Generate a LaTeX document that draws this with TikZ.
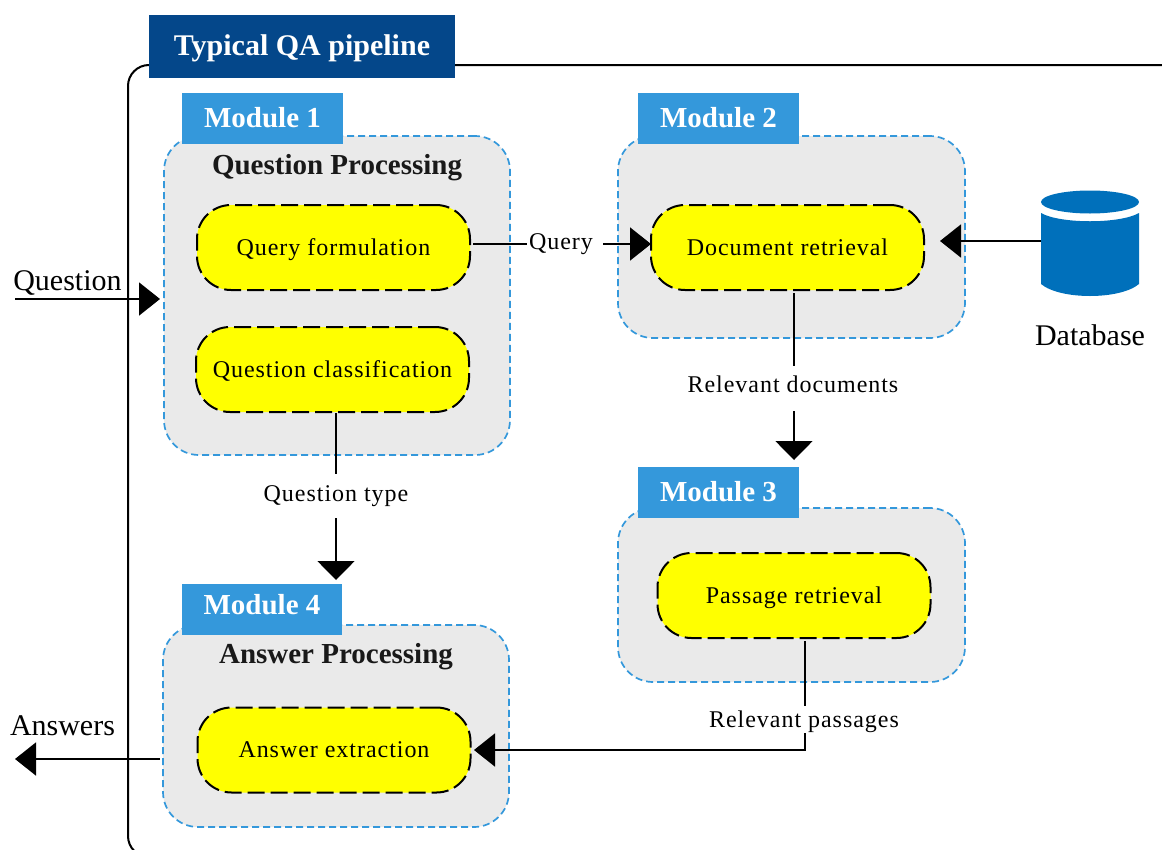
\documentclass[tikz,border=0pt]{standalone}
\usepackage{fontspec}
\setmainfont{Liberation Serif}
\usetikzlibrary{arrows.meta,shapes.geometric}
\definecolor{navy}{HTML}{04478A}
\definecolor{modblue}{HTML}{3498DB}
\definecolor{groupgray}{HTML}{EAEAEA}
\definecolor{dbblue}{HTML}{0070BB}
\definecolor{stepyellow}{HTML}{FFFF00}
\newcommand{\spaced}{\addfontfeature{LetterSpace=4}}
\tikzset{
  groupbox/.style={draw=modblue,fill=groupgray,line width=1.7pt,dash pattern=on 7pt off 4pt,rounded corners=35pt,minimum width=#1},
  yellowbox/.style={draw=black,fill=stepyellow,line width=2pt,dash pattern=on 17pt off 6pt,rounded corners=34pt,minimum width=273pt,minimum height=85pt,font=\fontsize{24}{26}\selectfont\spaced,inner sep=0pt,text height=15pt,text depth=0pt},
  modbox/.style={fill=modblue,text=white,minimum width=161pt,minimum height=51pt,font=\fontsize{29}{31}\selectfont\bfseries,inner sep=0pt,text height=17pt,text depth=0pt},
  grouptitle/.style={font=\fontsize{29}{31}\selectfont\bfseries,text=black!90,inner sep=0pt,anchor=base},
  flowlabel/.style={font=\fontsize{24}{26}\selectfont\spaced,inner sep=0pt,anchor=base},
  outerlabel/.style={font=\fontsize{30}{32}\selectfont,inner sep=0pt,anchor=base},
  wire/.style={draw=black,line width=1.8pt},
  headed/.style={wire,-{Triangle[length=21pt,width=33pt]}},
  downhead/.style={wire,-{Triangle[length=19pt,width=37pt]}},
}
\begin{document}
\begin{tikzpicture}[x=1pt,y=-1pt]
\useasboundingbox (0,0) rectangle (1162,849);
\clip (0,0) rectangle (1162,849);
% outer frame
\draw[line width=2pt,rounded corners=21pt] (128,857) -- (128,65) -- (1200,65) -- (1200,857) -- cycle;
\node[fill=navy,text=white,minimum width=306pt,minimum height=63pt,inner sep=0pt,text height=17pt,text depth=0pt,font=\fontsize{30}{32}\selectfont\bfseries] (title) at (302,46.5) {Typical QA pipeline};
% groups
\node[groupbox=346pt,minimum height=319pt] (g1) at (337,295.5) {};
\node[groupbox=347pt,minimum height=202pt] (g2) at (791.5,237) {};
\node[groupbox=347pt,minimum height=174pt] (g3) at (791.5,595) {};
\node[groupbox=346pt,minimum height=202pt] (g4) at (336,726) {};
% module tags
\node[modbox] (m1) at (262.5,118.5) {Module 1};
\node[modbox] (m2) at (718.5,118.5) {Module 2};
\node[modbox,text height=18pt] (m3) at (718.5,492.5) {Module 3};
\node[modbox,minimum width=160pt,text height=10pt] (m4) at (262,609) {Module 4};
% group titles
\node[grouptitle] (t1) at (337,174) {Question Processing};
\node[grouptitle] (t4) at (336,663) {Answer Processing};
% steps
\node[yellowbox] (qf) at (333.5,247.5) {Query formulation};
\node[yellowbox] (qc) at (332.5,369.5) {Question classification};
\node[yellowbox] (dr) at (787.5,247.5) {Document retrieval};
\node[yellowbox] (pr) at (794,595.5) {Passage retrieval};
\node[yellowbox] (ae) at (334,750) {Answer extraction};
% database
\fill[dbblue] (1041,213) .. controls (1060,224) and (1120,224) .. (1139,213) -- (1139,284) .. controls (1120,300) and (1060,300) .. (1041,284) -- cycle;
\node[ellipse,fill=dbblue,minimum width=98pt,minimum height=23pt,inner sep=0pt] (db) at (1090,202) {};
\coordinate (dbw) at (1041,241);
\node[outerlabel] (dbl) at (1090,345) {Database};
% labels
\node[flowlabel] (lq) at (561,249) {Query};
\node[flowlabel] (lrd) at (793,392) {Relevant documents};
\node[flowlabel] (lqt) at (336,501) {Question type};
\node[flowlabel] (lrp) at (804,727) {Relevant passages};
\node[outerlabel] (lin) at (67.5,290) {Question};
\node[outerlabel] (lout) at (62.5,735) {Answers};
% free ends
\coordinate (qstart) at (15,299);
\coordinate (qend) at (160,299);
\coordinate (astart) at (160,759);
\coordinate (aend) at (15,759);
\coordinate (q1) at (473,244);
\coordinate (q2) at (527,244);
\coordinate (q3) at (603,244);
\coordinate (q4) at (651,244);
\coordinate (dbt) at (940,241);
\coordinate (rd1) at (794,293);
\coordinate (rd2) at (794,366);
\coordinate (rd3) at (794,411);
\coordinate (rd4) at (794,460);
\coordinate (qt1) at (336,413);
\coordinate (qt2) at (336,474);
\coordinate (qt3) at (336,518);
\coordinate (qt4) at (336,580);
\coordinate (rp1) at (805,641);
\coordinate (rp2) at (805,706);
\coordinate (rp3) at (805,733);
\coordinate (rp4) at (805,750);
\coordinate (rp5) at (474,750);
% connectors
\draw[headed] (qstart) -- (qend);
\draw[headed] (astart) -- (aend);
\draw[wire] (q1) -- (q2);
\draw[headed] (q3) -- (q4);
\draw[headed] (dbw) -- (dbt);
\draw[wire] (rd1) -- (rd2);
\draw[downhead] (rd3) -- (rd4);
\draw[wire] (qt1) -- (qt2);
\draw[downhead] (qt3) -- (qt4);
\draw[wire] (rp1) -- (rp2);
\draw[headed] (rp3) -- (rp4) -- (rp5);
\end{tikzpicture}
\end{document}
